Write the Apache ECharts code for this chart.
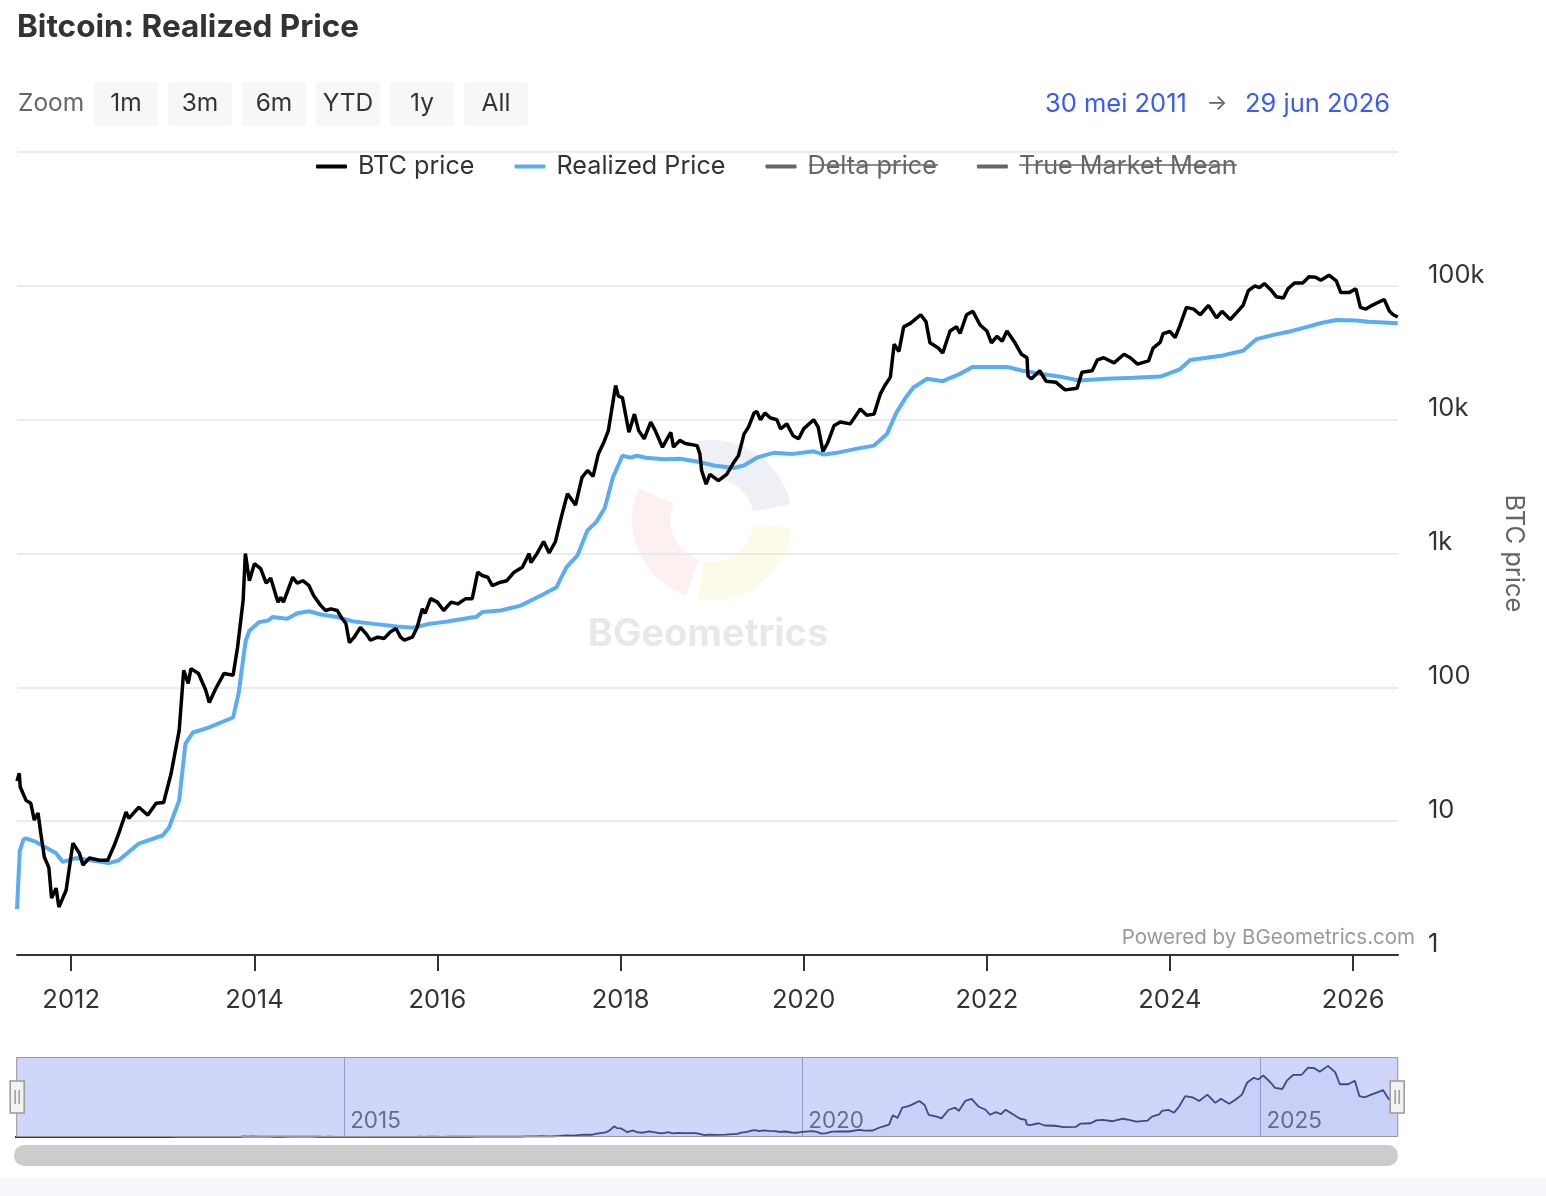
<!DOCTYPE html>
<html>
<head>
<meta charset="utf-8">
<title>Bitcoin: Realized Price</title>
<script src="https://cdn.jsdelivr.net/npm/echarts@6/dist/echarts.min.js"></script>
<style>
  html, body { margin: 0; padding: 0; background: #fff; }
  #chart { width: 1546px; height: 1196px; }
</style>
</head>
<body>
<div id="chart"></div>
<script>
// BTC price
const btcPrice = [
  ['2011-05-30', 20], ['2011-06-08', 22.8], ['2011-06-12', 18], ['2011-07-05', 14.3],
  ['2011-07-24', 13.6], ['2011-08-07', 10.2], ['2011-08-22', 11.5], ['2011-09-02', 8.1],
  ['2011-09-16', 5.4], ['2011-10-04', 4.5], ['2011-10-15', 2.66], ['2011-11-02', 3.16],
  ['2011-11-13', 2.28], ['2011-12-12', 3.05], ['2012-01-08', 6.85], ['2012-02-03', 5.76],
  ['2012-02-17', 4.7], ['2012-03-14', 5.3], ['2012-04-23', 5.1], ['2012-05-26', 5.1],
  ['2012-06-21', 6.6], ['2012-07-09', 8.1], ['2012-08-07', 11.7], ['2012-08-18', 10.5],
  ['2012-09-27', 12.7], ['2012-11-02', 11.1], ['2012-12-05', 13.6], ['2013-01-04', 13.8],
  ['2013-02-03', 22.8], ['2013-03-07', 47.7], ['2013-03-25', 134], ['2013-04-12', 107],
  ['2013-04-23', 138], ['2013-05-23', 127], ['2013-06-21', 95], ['2013-07-05', 77],
  ['2013-07-31', 98], ['2013-09-02', 127], ['2013-10-08', 123], ['2013-10-26', 200],
  ['2013-11-17', 445], ['2013-11-26', 1000], ['2013-12-12', 626], ['2014-01-01', 840],
  ['2014-01-26', 770], ['2014-02-17', 600], ['2014-03-07', 655], ['2014-04-05', 433],
  ['2014-04-16', 470], ['2014-04-27', 433], ['2014-06-03', 665], ['2014-06-21', 600],
  ['2014-07-13', 626], ['2014-08-07', 575], ['2014-08-25', 485], ['2014-09-23', 408],
  ['2014-10-12', 375], ['2014-11-02', 386], ['2014-11-28', 375], ['2014-12-16', 328],
  ['2015-01-01', 300], ['2015-01-15', 216], ['2015-02-03', 237], ['2015-02-28', 280],
  ['2015-03-22', 252], ['2015-04-09', 225], ['2015-05-08', 237], ['2015-06-03', 232],
  ['2015-06-28', 260], ['2015-07-20', 275], ['2015-08-07', 237], ['2015-08-22', 225],
  ['2015-09-23', 237], ['2015-10-12', 280], ['2015-11-02', 386], ['2015-11-13', 357],
  ['2015-12-05', 460], ['2016-01-01', 433], ['2016-01-26', 375], ['2016-02-25', 433],
  ['2016-03-22', 420], ['2016-04-23', 460], ['2016-05-19', 460], ['2016-06-10', 725],
  ['2016-06-28', 685], ['2016-07-20', 665], ['2016-08-07', 575], ['2016-09-09', 610],
  ['2016-10-04', 626], ['2016-11-02', 725], ['2016-12-05', 790], ['2017-01-01', 1000],
  ['2017-01-08', 855], ['2017-02-03', 1010], ['2017-02-28', 1230], ['2017-03-22', 1010],
  ['2017-04-16', 1230], ['2017-05-08', 1830], ['2017-06-03', 2800], ['2017-07-05', 2300],
  ['2017-07-31', 3700], ['2017-08-22', 4170], ['2017-09-13', 3770], ['2017-10-04', 5550],
  ['2017-10-26', 6780], ['2017-11-13', 8280], ['2017-11-28', 12400], ['2017-12-12', 18000],
  ['2017-12-23', 15000], ['2018-01-08', 14600], ['2018-02-03', 8050], ['2018-02-25', 11000],
  ['2018-03-14', 8280], ['2018-04-05', 7200], ['2018-05-01', 9600], ['2018-05-19', 8280],
  ['2018-06-17', 6230], ['2018-07-20', 8050], ['2018-07-31', 6230], ['2018-08-25', 7000],
  ['2018-09-16', 6640], ['2018-11-02', 6400], ['2018-11-13', 5550], ['2018-11-20', 4170],
  ['2018-12-08', 3300], ['2018-12-23', 3900], ['2019-01-26', 3500], ['2019-02-28', 3900],
  ['2019-03-29', 4820], ['2019-04-16', 5380], ['2019-05-08', 7800], ['2019-05-26', 8800],
  ['2019-06-17', 11200], ['2019-06-28', 11500], ['2019-07-13', 10000], ['2019-07-31', 11200],
  ['2019-08-22', 10300], ['2019-09-16', 10000], ['2019-10-01', 8530], ['2019-10-26', 9300],
  ['2019-11-20', 7580], ['2019-12-12', 7200], ['2020-01-01', 8530], ['2020-02-10', 10000],
  ['2020-02-28', 8800], ['2020-03-18', 5800], ['2020-04-05', 6640], ['2020-05-01', 9000],
  ['2020-05-26', 9600], ['2020-07-05', 9300], ['2020-08-14', 12000], ['2020-09-09', 10800],
  ['2020-10-08', 11000], ['2020-11-02', 15600], ['2020-11-20', 18000], ['2020-12-12', 20800],
  ['2020-12-27', 36600], ['2021-01-15', 32300], ['2021-02-03', 49400], ['2021-03-03', 52600],
  ['2021-04-12', 60800], ['2021-05-03', 54000], ['2021-05-19', 37500], ['2021-06-21', 34300],
  ['2021-07-09', 31500], ['2021-08-07', 46000], ['2021-09-02', 49400], ['2021-09-16', 44000],
  ['2021-10-12', 60800], ['2021-11-06', 64500], ['2021-12-05', 51000], ['2022-01-01', 46000],
  ['2022-01-19', 37500], ['2022-02-10', 42000], ['2022-03-03', 38600], ['2022-03-22', 46000],
  ['2022-04-23', 37500], ['2022-05-19', 30800], ['2022-06-10', 29000], ['2022-06-14', 21200],
  ['2022-06-28', 20200], ['2022-07-31', 23200], ['2022-08-25', 19400], ['2022-10-04', 19000],
  ['2022-11-09', 16700], ['2022-12-27', 17200], ['2023-01-15', 22600], ['2023-02-25', 23200],
  ['2023-03-18', 28000], ['2023-04-12', 29000], ['2023-05-23', 26600], ['2023-07-02', 30800],
  ['2023-07-27', 29000], ['2023-08-25', 26000], ['2023-10-08', 27500], ['2023-10-26', 34300],
  ['2023-11-24', 38000], ['2023-12-05', 44000], ['2024-01-01', 45600], ['2024-01-22', 41000],
  ['2024-02-10', 50500], ['2024-03-07', 69000], ['2024-04-05', 67000], ['2024-05-01', 60800],
  ['2024-06-03', 71500], ['2024-07-05', 57600], ['2024-07-27', 64500], ['2024-08-29', 56000],
  ['2024-09-23', 63000], ['2024-10-19', 71500], ['2024-11-09', 92000], ['2024-12-05', 100000],
  ['2024-12-23', 97000], ['2025-01-12', 104000], ['2025-02-10', 92000], ['2025-02-28', 83000],
  ['2025-03-29', 81000], ['2025-04-16', 95000], ['2025-05-12', 105000], ['2025-06-14', 105000],
  ['2025-07-09', 117000], ['2025-08-04', 116000], ['2025-08-25', 110000], ['2025-09-27', 120000],
  ['2025-10-26', 109000], ['2025-11-13', 89000], ['2025-12-16', 89000], ['2026-01-12', 95000],
  ['2026-01-30', 69000], ['2026-02-21', 67000], ['2026-03-18', 71500], ['2026-04-09', 75000],
  ['2026-05-05', 79000], ['2026-05-26', 64500], ['2026-06-10', 60800], ['2026-06-28', 58500]
];

// Realized price
const realizedPrice = [
  ['2011-05-30', 2.2], ['2011-06-10', 6.0], ['2011-06-25', 7.3], ['2011-07-05', 7.45],
  ['2011-08-14', 7.0], ['2011-11-02', 5.76], ['2011-11-28', 4.97], ['2012-01-19', 5.3],
  ['2012-05-30', 4.86], ['2012-07-09', 5.1], ['2012-09-27', 6.8], ['2013-01-01', 7.85],
  ['2013-01-26', 9.0], ['2013-03-07', 14.3], ['2013-04-01', 38], ['2013-05-01', 46],
  ['2013-07-02', 50], ['2013-10-08', 59.5], ['2013-10-30', 90], ['2013-11-20', 178],
  ['2013-11-28', 225], ['2013-12-12', 265], ['2014-01-19', 307], ['2014-02-25', 316],
  ['2014-03-14', 335], ['2014-05-12', 325], ['2014-06-21', 358], ['2014-08-07', 370],
  ['2014-09-23', 350], ['2014-11-28', 335], ['2015-02-03', 310], ['2015-04-23', 298],
  ['2015-07-24', 285], ['2015-09-27', 279], ['2015-11-28', 298], ['2016-02-10', 310],
  ['2016-05-15', 332], ['2016-06-03', 335], ['2016-06-28', 365], ['2016-09-09', 375],
  ['2016-11-28', 408], ['2017-01-08', 445], ['2017-03-03', 500], ['2017-04-20', 560],
  ['2017-05-30', 790], ['2017-07-13', 970], ['2017-08-22', 1490], ['2017-09-27', 1730],
  ['2017-10-30', 2200], ['2017-12-01', 3700], ['2018-01-08', 5380], ['2018-02-10', 5200],
  ['2018-03-07', 5380], ['2018-04-12', 5200], ['2018-06-24', 5060], ['2018-08-25', 5100],
  ['2018-11-13', 4820], ['2019-01-08', 4550], ['2019-03-29', 4350], ['2019-05-08', 4550],
  ['2019-06-28', 5200], ['2019-09-02', 5650], ['2019-11-20', 5550], ['2020-02-10', 5800],
  ['2020-03-22', 5480], ['2020-05-12', 5650], ['2020-07-27', 6050], ['2020-10-08', 6400],
  ['2020-11-28', 7800], ['2021-01-04', 11200], ['2021-02-10', 14500], ['2021-03-14', 17400],
  ['2021-05-08', 20200], ['2021-07-09', 19400], ['2021-09-16', 22000], ['2021-11-06', 24800],
  ['2022-03-22', 24800], ['2022-05-23', 23200], ['2022-07-31', 22000], ['2022-10-30', 20800],
  ['2023-01-04', 19600], ['2023-04-23', 20200], ['2023-08-11', 20600], ['2023-11-24', 21000],
  ['2024-02-10', 23800], ['2024-03-22', 27900], ['2024-05-26', 29000], ['2024-07-31', 30200],
  ['2024-10-19', 32700], ['2024-12-12', 40000], ['2025-02-17', 43000], ['2025-04-23', 45600],
  ['2025-07-02', 49400], ['2025-08-22', 52500], ['2025-10-26', 55600], ['2026-01-12', 55000],
  ['2026-03-03', 54000], ['2026-06-28', 52500]
];

const legendNames = ['BTC price', 'Realized Price', 'Delta price', 'True Market Mean'];
const xTickYears = [2012, 2014, 2016, 2018, 2020, 2022, 2024, 2026];
const navTickYears = [2015, 2020, 2025];
const zoomButtons = ['1m', '3m', '6m', 'YTD', '1y', 'All'];
const rangeFrom = '30 mei 2011';
const rangeTo = '29 jun 2026';

const FONT = 'Inter, "Noto Sans", sans-serif';
const ts = s => { const p = s.split('-'); return Date.UTC(+p[0], +p[1] - 1, +p[2]); };
const yearTs = y => Date.UTC(y, 0, 1);
const xMin = ts('2011-05-30');
const xMax = ts('2026-06-29');
const btcData = btcPrice.map(d => [ts(d[0]), d[1]]);
const realizedData = realizedPrice.map(d => [ts(d[0]), d[1]]);

function logLabel(v) {
  const e = Math.round(Math.log10(v));
  return ['1', '10', '100', '1k', '10k', '100k', ''][e] || '';
}
const yearLabel = v => String(new Date(v).getUTCFullYear());

const graphics = [];
// zoom buttons
graphics.push({ type: 'text', x: 18, y: 104, style: { text: 'Zoom', font: '24.5px ' + FONT, fill: '#666', verticalAlign: 'middle' } });
zoomButtons.forEach((b, i) => {
  const x = 94 + i * 74;
  graphics.push({ type: 'rect', shape: { x: x, y: 82, width: 64, height: 44, r: 3 }, style: { fill: '#f7f7f7' } });
  graphics.push({ type: 'text', x: x + 32, y: 104, style: { text: b, font: '24.5px ' + FONT, fill: '#333', align: 'center', verticalAlign: 'middle' } });
});
graphics.push({ type: 'text', x: 1045, y: 104, style: { text: rangeFrom, font: '25.5px ' + FONT, fill: '#3a5bf7', verticalAlign: 'middle' } });
graphics.push({ type: 'text', x: 1217, y: 103, style: { text: '→', font: '22px ' + FONT, fill: '#666', align: 'center', verticalAlign: 'middle' } });
graphics.push({ type: 'text', x: 1390, y: 104, style: { text: rangeTo, font: '25.5px ' + FONT, fill: '#3a5bf7', align: 'right', verticalAlign: 'middle' } });
// watermark
graphics.push({ type: 'sector', z: 0, shape: { cx: 712, cy: 520, r0: 42, r: 80, startAngle: -1.75, endAngle: -0.2 }, style: { fill: 'rgba(120,130,180,0.12)' } });
graphics.push({ type: 'sector', z: 0, shape: { cx: 712, cy: 520, r0: 42, r: 80, startAngle: 1.9, endAngle: 3.55 }, style: { fill: 'rgba(230,120,110,0.10)' } });
graphics.push({ type: 'sector', z: 0, shape: { cx: 712, cy: 520, r0: 42, r: 80, startAngle: 0.1, endAngle: 1.75 }, style: { fill: 'rgba(235,220,90,0.14)' } });
graphics.push({ type: 'text', x: 708, y: 635, z: 0, style: { text: 'BGeometrics', font: 'bold 38px ' + FONT, fill: 'rgba(0,0,0,0.09)', align: 'center', verticalAlign: 'middle' } });
// credits
graphics.push({ type: 'text', x: 1415, y: 938, style: { text: 'Powered by BGeometrics.com', font: '20.5px ' + FONT, fill: '#999', align: 'right', verticalAlign: 'middle' } });
// strike-through for hidden legend items
graphics.push({ type: 'line', shape: { x1: 809, y1: 165, x2: 938, y2: 165 }, style: { stroke: '#666', lineWidth: 1.5 } });
graphics.push({ type: 'line', shape: { x1: 1019, y1: 165, x2: 1237, y2: 165 }, style: { stroke: '#666', lineWidth: 1.5 } });
// scrollbar + bottom strip
graphics.push({ type: 'rect', shape: { x: 14, y: 1145, width: 1384, height: 21, r: 10 }, style: { fill: '#cccccc' } });
graphics.push({ type: 'rect', shape: { x: 0, y: 1178, width: 1546, height: 18 }, style: { fill: '#f6f7fb' } });

const chart = echarts.init(document.getElementById('chart'));
chart.setOption({
  animation: false,
  textStyle: { fontFamily: FONT },
  title: {
    text: 'Bitcoin: Realized Price', left: 12, top: 7,
    textStyle: { fontSize: 31.5, fontWeight: 'bold', color: '#333', fontFamily: FONT }
  },
  legend: {
    data: legendNames, left: 316, top: 154, padding: 0,
    icon: 'roundRect', itemWidth: 31, itemHeight: 4, itemGap: 40,
    textStyle: { fontSize: 25.2, color: '#333', padding: [0, 0, 0, 6] },
    inactiveColor: '#666',
    selected: { 'Delta price': false, 'True Market Mean': false }
  },
  grid: [
    { left: 17, right: 148, top: 152, bottom: 241 },
    { left: 15, right: 149, top: 1057, height: 80 }
  ],
  xAxis: [
    {
      type: 'value', gridIndex: 0, min: xMin, max: xMax,
      axisLine: { lineStyle: { color: '#333', width: 2 } },
      axisTick: { show: true, length: 16, lineStyle: { color: '#333', width: 2 }, customValues: xTickYears.map(yearTs) },
      axisLabel: { customValues: xTickYears.map(yearTs), formatter: yearLabel, fontSize: 25.5, color: '#333', margin: 32 },
      splitLine: { show: false }
    },
    {
      type: 'value', gridIndex: 1, min: xMin, max: xMax,
      axisLine: { show: false },
      axisTick: { show: false, customValues: navTickYears.map(yearTs) },
      axisLabel: {
        inside: true, customValues: navTickYears.map(yearTs), formatter: yearLabel,
        fontSize: 22.5, color: '#666', align: 'left', padding: [0, 0, 0, 6], margin: 4, verticalAlign: 'bottom'
      },
      splitLine: { show: true, lineStyle: { color: '#aab', width: 1 } }
    }
  ],
  yAxis: [
    {
      type: 'log', logBase: 10, gridIndex: 0, min: 1, max: 1000000, splitNumber: 6, position: 'right',
      name: 'BTC price', nameLocation: 'middle', nameRotate: -90, nameGap: 103,
      nameTextStyle: { fontSize: 25.5, color: '#666' },
      axisLine: { show: false }, axisTick: { show: false },
      axisLabel: { formatter: logLabel, fontSize: 25.5, color: '#333', margin: 30, verticalAlign: 'bottom', lineHeight: 22 },
      splitLine: { lineStyle: { color: '#e6e6e6', width: 1.5 } }
    },
    { type: 'value', gridIndex: 1, min: 0, max: 135000, show: false }
  ],
  dataZoom: [{
    type: 'slider', xAxisIndex: 0, left: 15, right: 149, top: 1057, height: 80,
    start: 0, end: 100, filterMode: 'none', showDataShadow: false, showDetail: false,
    brushSelect: false, moveHandleSize: 0,
    backgroundColor: 'rgba(0,0,0,0)', borderColor: '#999', borderRadius: 0,
    fillerColor: 'rgba(100,118,240,0.3)',
    handleIcon: 'path://M0,0 L14,0 L14,32 L0,32 Z M5,9 L5,23 M9,9 L9,23',
    handleSize: 32,
    handleStyle: { color: '#f2f2f2', borderColor: '#999', borderWidth: 1.5 }
  }],
  series: [
    {
      name: 'BTC price', type: 'line', xAxisIndex: 0, yAxisIndex: 0, data: btcData,
      showSymbol: false, lineStyle: { color: '#000', width: 3.5 }, itemStyle: { color: '#000' }, z: 3
    },
    {
      name: 'Realized Price', type: 'line', xAxisIndex: 0, yAxisIndex: 0, data: realizedData,
      showSymbol: false, lineStyle: { color: '#5aacf6', width: 4 }, itemStyle: { color: '#5aacf6' }, z: 2
    },
    { name: 'Delta price', type: 'line', xAxisIndex: 0, yAxisIndex: 0, data: [], itemStyle: { color: '#666' } },
    { name: 'True Market Mean', type: 'line', xAxisIndex: 0, yAxisIndex: 0, data: [], itemStyle: { color: '#666' } },
    {
      name: 'nav', type: 'line', xAxisIndex: 1, yAxisIndex: 1, data: btcData, silent: true,
      showSymbol: false, lineStyle: { color: '#2f3550', width: 1.8 },
      areaStyle: { color: 'rgba(51,92,173,0.08)' }
    }
  ],
  graphic: graphics
});
</script>
</body>
</html>
